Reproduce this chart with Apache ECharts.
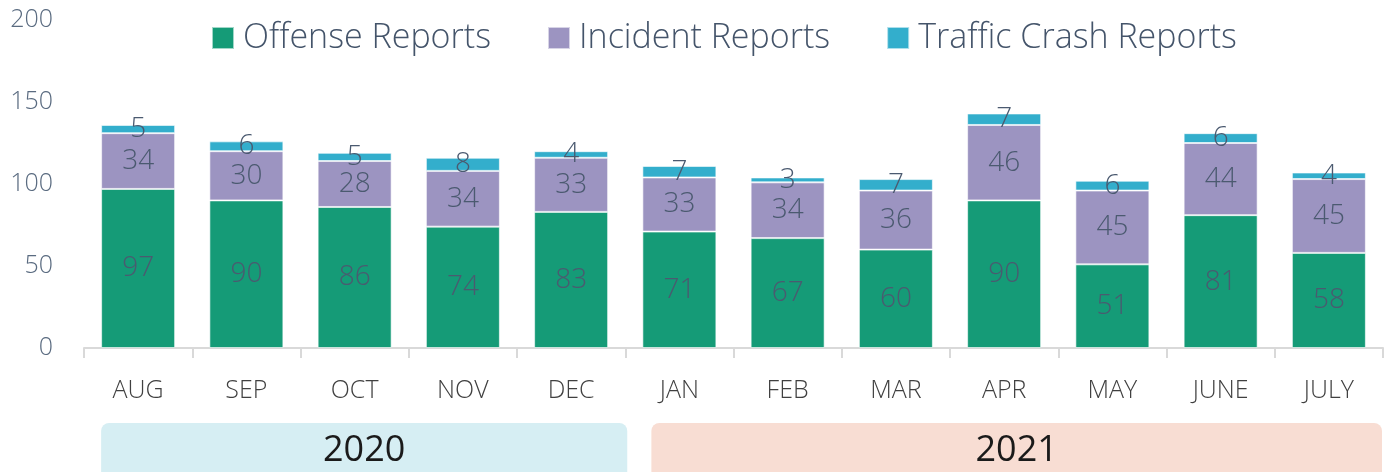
<!DOCTYPE html>
<html>
<head>
<meta charset="utf-8">
<script src="https://cdn.jsdelivr.net/npm/echarts@6/dist/echarts.min.js"></script>
<style>
  html, body { margin: 0; padding: 0; background: #fff; }
  #main { width: 1390px; height: 472px; }
</style>
</head>
<body>
<div id="main"></div>
<script>
// 数据
var months = ['AUG', 'SEP', 'OCT', 'NOV', 'DEC', 'JAN', 'FEB', 'MAR', 'APR', 'MAY', 'JUNE', 'JULY'];
var offense = [97, 90, 86, 74, 83, 71, 67, 60, 90, 51, 81, 58];
var incident = [34, 30, 28, 34, 33, 33, 34, 36, 46, 45, 44, 45];
var traffic = [5, 6, 5, 8, 4, 7, 3, 7, 7, 6, 6, 4];
var years = ['2020', '2021'];
var yearFirstMonth = ['AUG', 'JAN'];
var yearLastMonth = ['DEC', 'JULY'];

var font = '"Open Sans", "Noto Sans", sans-serif';
var labelStyle = {
    show: true,
    position: 'inside',
    color: '#4b5a70',
    fontSize: 28,
    fontFamily: font,
    fontWeight: 300
};

var myChart = echarts.init(document.getElementById('main'));

function seriesItem(name, data, color) {
    return {
        name: name,
        type: 'bar',
        stack: 'total',
        data: data,
        barWidth: 74,
        itemStyle: { color: color, borderColor: 'rgba(255,255,255,0.6)', borderWidth: 1 },
        label: labelStyle
    };
}

myChart.setOption({
    animation: false,
    legend: {
        top: 16,
        left: 206,
        itemWidth: 22,
        itemHeight: 22,
        itemGap: 56,
        icon: 'rect',
        textStyle: { color: '#44546a', fontSize: 34, fontFamily: font, fontWeight: 300, padding: [0, 0, 0, 4] }
    },
    grid: { left: 84, right: 7, top: 20, bottom: 124 },
    xAxis: {
        type: 'category',
        data: months,
        axisLine: { lineStyle: { color: '#d9d9d9', width: 2 } },
        axisTick: { show: true, interval: 0, alignWithLabel: false, length: 10, lineStyle: { color: '#d9d9d9', width: 2 } },
        axisLabel: { margin: 30, color: '#404040', fontSize: 25, fontFamily: font, fontWeight: 300 }
    },
    yAxis: {
        type: 'value',
        min: 0,
        max: 200,
        interval: 50,
        splitLine: { show: false },
        axisLabel: { margin: 31, color: '#5a6b80', fontSize: 25, fontFamily: font, fontWeight: 300 }
    },
    series: [
        seriesItem('Offense Reports', offense, '#159b77'),
        seriesItem('Incident Reports', incident, '#9c94c1'),
        seriesItem('Traffic Crash Reports', traffic, '#33aecc')
    ]
});

// 年份色带：位置从坐标轴换算
var bandColors = ['#d6eef3', '#f8ddd3'];
var half = 108.25 / 2;
var graphics = [];
for (var i = 0; i < years.length; i++) {
    var x0 = myChart.convertToPixel({ xAxisIndex: 0 }, yearFirstMonth[i]) - (i === 0 ? 37 : 28);
    var x1 = myChart.convertToPixel({ xAxisIndex: 0 }, yearLastMonth[i]) + (i === 0 ? half + 2 : half - 1);
    graphics.push({
        type: 'rect',
        shape: { x: x0, y: 423, width: x1 - x0, height: 60, r: 8 },
        style: { fill: bandColors[i] }
    });
    graphics.push({
        type: 'text',
        x: (x0 + x1) / 2,
        y: 451,
        style: {
            text: years[i],
            fill: '#1a1a1a',
            fontSize: 36,
            fontFamily: font,
            align: 'center',
            verticalAlign: 'middle'
        }
    });
}
myChart.setOption({ graphic: graphics });
</script>
</body>
</html>
